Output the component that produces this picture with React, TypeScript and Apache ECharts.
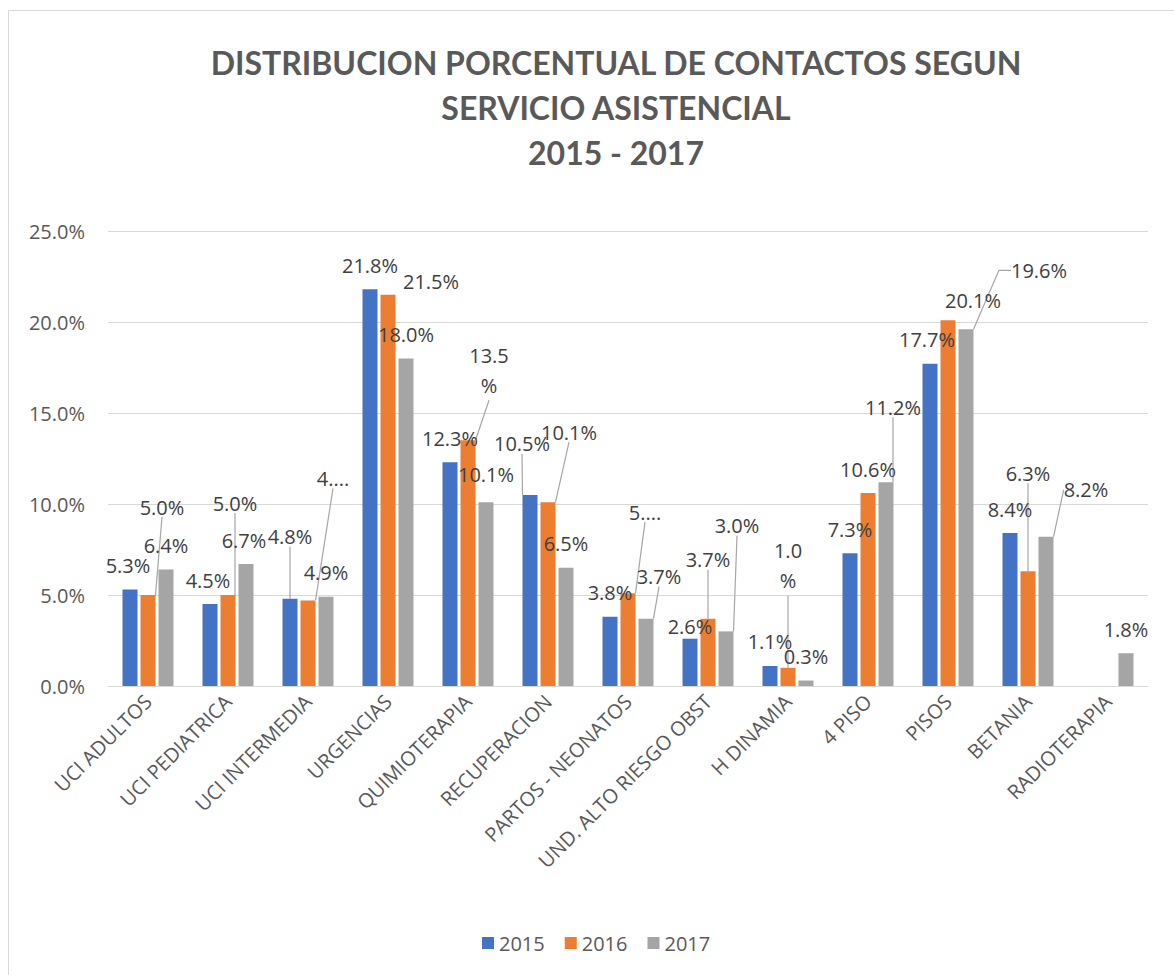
import React, { useEffect, useRef } from "react";
import * as echarts from "echarts";

const categories = [
  "UCI ADULTOS",
  "UCI PEDIATRICA",
  "UCI INTERMEDIA",
  "URGENCIAS",
  "QUIMIOTERAPIA",
  "RECUPERACION",
  "PARTOS - NEONATOS",
  "UND. ALTO RIESGO OBST",
  "H DINAMIA",
  "4 PISO",
  "PISOS",
  "BETANIA",
  "RADIOTERAPIA",
];
const seriesNames = ["2015", "2016", "2017"];
const values2015 = [5.3, 4.5, 4.8, 21.8, 12.3, 10.5, 3.8, 2.6, 1.1, 7.3, 17.7, 8.4, null];
const values2016 = [5.0, 5.0, 4.7, 21.5, 13.5, 10.1, 5.1, 3.7, 1.0, 10.6, 20.1, 6.3, null];
const values2017 = [6.4, 6.7, 4.9, 18.0, 10.1, 6.5, 3.7, 3.0, 0.3, 11.2, 19.6, 8.2, 1.8];
const yMin = 0;
const yMax = 25;
const yStep = 5;
const titleLines = [
  "DISTRIBUCION PORCENTUAL DE CONTACTOS SEGUN",
  "SERVICIO ASISTENCIAL",
  "2015 - 2017",
];

// label texts as they appear (Excel truncated/wrapped some)
const labelText2015: Record<number, string> = {};
const labelText2016: Record<number, string> = { 2: "4....", 4: "13.5\n%", 6: "5....", 8: "1.0\n%" };
const labelText2017: Record<number, string> = {};

// label displacement (layout, not data)
const labelShift2015: number[][] = [
  [-2, 0], [-2, 0], [0, -38], [0, 0], [0, 0], [-8, -27], [0, 0], [0, 12], [0, 0], [0, 0], [-3, 0], [0, 0], [0, 0],
];
const labelShift2016: number[][] = [
  [14, -64], [7, -68], [25, -98], [43, 11], [21, -26], [21, -46], [17, -57], [0, -35], [0, -58], [0, 0], [25, 4], [0, -74], [0, 0],
];
const labelShift2017: number[][] = [
  [0, 0], [-2, 0], [0, 0], [0, 0], [0, -4], [0, 0], [13, -18], [11, -82], [0, 0], [7, -51], [73, -35], [40, -23], [0, 0],
];
const leader2015 = [2, 5];
const leader2016 = [0, 1, 2, 4, 5, 6, 7, 8, 11];
const leader2017 = [6, 7, 9, 10, 11];
const elbow2017 = [10];

const colors = ["#4472C4", "#ED7D31", "#A5A5A5"];
const FONT = "'Open Sans', 'DejaVu Sans', sans-serif";

export default function App() {
  const ref = useRef<HTMLDivElement>(null);
  useEffect(() => {
    document.body.style.margin = "0";
    if (!ref.current) return;
    const chart = echarts.init(ref.current, undefined, { renderer: "svg" });

    const allValues = [values2015, values2016, values2017];
    const allTexts = [labelText2015, labelText2016, labelText2017];
    const allShifts = [labelShift2015, labelShift2016, labelShift2017];
    const allLeaders = [leader2015, leader2016, leader2017];
    const allElbows: number[][] = [[], [], elbow2017];

    const series = allValues.map((vals, si) => ({
      name: seriesNames[si],
      type: "bar",
      barWidth: 15,
      barGap: "20%",
      itemStyle: { color: colors[si] },
      label: {
        show: true,
        position: "top",
        distance: 14,
        fontFamily: FONT,
        fontSize: 20,
        color: "#404040",
        formatter: (p: any) => {
          const t = allTexts[si][p.dataIndex];
          if (t !== undefined) return t;
          return Number(p.value).toFixed(1) + "%";
        },
      },
      labelLayout: (p: any) => {
        const s = allShifts[si][p.dataIndex] || [0, 0];
        return { dx: s[0], dy: s[1] };
      },
      labelLine: {
        show: false,
        lineStyle: { color: "#A6A6A6", width: 1 },
      },
      data: vals.map((v, i) => {
        if (v === null) return "-";
        const item: any = { value: v };
        if (allLeaders[si].includes(i)) {
          item.labelLine = {
            show: true,
            length2: allElbows[si].includes(i) ? 12 : 0,
            lineStyle: { color: "#A6A6A6", width: 1.2 },
          };
        }
        const t = allTexts[si][i];
        if (t !== undefined && t.includes("\n")) {
          item.label = { lineHeight: 30 };
        }
        return item;
      }),
    }));

    chart.setOption({
      animation: false,
      color: colors,
      title: {
        text: titleLines.join("\n"),
        left: 611,
        top: 35,
        textAlign: "center",
        textStyle: {
          fontFamily: "Lato, 'Open Sans', sans-serif",
          fontWeight: "bold",
          fontSize: 32,
          lineHeight: 45,
          color: "#595959",
        },
      },
      graphic: [
        {
          type: "rect",
          shape: { x: 8.5, y: 10.5, width: 1300, height: 1100 },
          style: { fill: "none", stroke: "#D9D9D9", lineWidth: 1 },
          silent: true,
          z: -10,
        },
      ],
      legend: {
        data: seriesNames,
        left: 482,
        top: 933,
        padding: 0,
        itemWidth: 12,
        itemHeight: 12,
        itemGap: 20,
        icon: "rect",
        textStyle: { fontFamily: FONT, fontSize: 20, color: "#595959" },
      },
      grid: { left: 108, right: 26, top: 231, bottom: 289 },
      xAxis: {
        type: "category",
        data: categories,
        axisLine: { lineStyle: { color: "#D9D9D9", width: 1 } },
        axisTick: { show: false },
        axisLabel: {
          interval: 0,
          rotate: 45,
          margin: 12,
          fontFamily: FONT,
          fontSize: 20,
          color: "#595959",
        },
      },
      yAxis: {
        type: "value",
        min: yMin,
        max: yMax,
        interval: yStep,
        axisLine: { show: false },
        axisTick: { show: false },
        splitLine: { lineStyle: { color: "#D9D9D9", width: 1 } },
        axisLabel: {
          margin: 23,
          fontFamily: FONT,
          fontSize: 20,
          color: "#595959",
          formatter: (v: number) => v.toFixed(1) + "%",
        },
      },
      series,
    });
    return () => chart.dispose();
  }, []);
  return <div ref={ref} style={{ width: 1174, height: 975 }} />;
}
